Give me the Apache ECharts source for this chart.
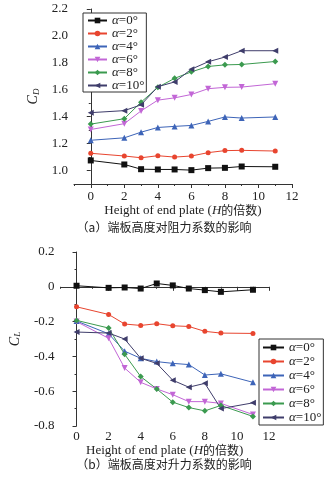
<!DOCTYPE html>
<html><head><meta charset="utf-8">
<script src="https://cdn.jsdelivr.net/npm/echarts@6/dist/echarts.min.js"></script>
<style>html,body{margin:0;padding:0;background:#fff}#c{width:328px;height:477px}</style>
</head><body><div id="c"></div>
<script>
const heights = [0, 2, 3, 4, 5, 6, 7, 8, 9, 11];
const seriesNames = ['α=0°', 'α=2°', 'α=4°', 'α=6°', 'α=8°', 'α=10°'];
const cdA0 = [1.075, 1.045, 1.01, 1.008, 1.008, 1.003, 1.018, 1.02, 1.03, 1.028];
const cdA2 = [1.128, 1.108, 1.095, 1.11, 1.10, 1.108, 1.133, 1.148, 1.15, 1.145];
const cdA4 = [1.225, 1.243, 1.285, 1.32, 1.328, 1.335, 1.365, 1.398, 1.39, 1.398];
const cdA6 = [1.305, 1.348, 1.443, 1.523, 1.54, 1.565, 1.608, 1.618, 1.62, 1.645];
const cdA8 = [1.345, 1.385, 1.508, 1.618, 1.685, 1.733, 1.773, 1.785, 1.788, 1.81];
const cdA10 = [1.43, 1.445, 1.488, 1.623, 1.658, 1.753, 1.808, 1.843, 1.89, 1.89];
const clA0 = [0.006, -0.006, -0.004, -0.01, 0.019, 0.008, -0.01, -0.019, -0.029, -0.017];
const clA2 = [-0.115, -0.159, -0.214, -0.222, -0.212, -0.224, -0.228, -0.256, -0.266, -0.268];
const clA4 = [-0.197, -0.27, -0.37, -0.411, -0.43, -0.44, -0.447, -0.507, -0.5, -0.549];
const clA6 = [-0.2, -0.296, -0.467, -0.549, -0.587, -0.62, -0.66, -0.66, -0.67, -0.734];
const clA8 = [-0.193, -0.237, -0.388, -0.516, -0.587, -0.663, -0.694, -0.713, -0.682, -0.745];
const clA10 = [-0.26, -0.266, -0.30, -0.411, -0.44, -0.537, -0.577, -0.555, -0.70, -0.667];
const xTicks = [0, 2, 4, 6, 8, 10, 12];
const xMinor = [-1, 1, 3, 5, 7, 9, 11];
const cdTicks = [1.0, 1.2, 1.4, 1.6, 1.8, 2.0, 2.2];
const cdMinor = [0.9, 1.1, 1.3, 1.5, 1.7, 1.9, 2.1];
const clTicks = [-0.8, -0.6, -0.4, -0.2, 0, 0.2];
const clMinor = [-0.7, -0.5, -0.3, -0.1, 0.1];

const cdData = [cdA0, cdA2, cdA4, cdA6, cdA8, cdA10];
const clData = [clA0, clA2, clA4, clA6, clA8, clA10];
const colors = ['#111111', '#e8452f', '#3d64b8', '#c266d6', '#3b9a4f', '#3f3d6b'];
const symbols = ['rect', 'circle', 'triangle', 'triangle', 'diamond', 'triangle'];
const rotates = [0, 0, 0, 180, 0, 90];
const sizes = [6, 5, 6, 6, 6, 6];

const FONT = '"Liberation Serif", "Times New Roman", serif';
const labelStyle = {fontFamily: FONT, fontSize: 13, color: '#222'};

function axisCommon(extra) {
  return Object.assign({
    type: 'value',
    axisLine: {show: true, lineStyle: {color: '#333', width: 1}},
    splitLine: {show: false},
  }, extra);
}
function xMain(gi, lm, ng) {
  return axisCommon({
    gridIndex: gi, min: -1, max: 12,
    axisTick: {show: true, length: 4, inside: false, customValues: xTicks, lineStyle: {color: '#333'}},
    axisLabel: Object.assign({customValues: xTicks, margin: lm}, labelStyle),
    name: '{n|Height of end plate (}{i|H}{c|的倍数}{n|)}',
    nameLocation: 'middle', nameGap: ng,
    nameTextStyle: {rich: {
      n: {fontFamily: FONT, fontSize: 13, color: '#222'},
      i: {fontFamily: FONT, fontSize: 13, fontStyle: 'italic', color: '#222'},
      c: {fontFamily: '"Noto Sans CJK SC"', fontSize: 12, color: '#222'}
    }}
  });
}
function xMinorAx(gi) {
  return axisCommon({
    gridIndex: gi, min: -1, max: 12, position: 'bottom',
    axisLine: {show: false},
    axisTick: {show: true, length: 2, customValues: xMinor, lineStyle: {color: '#333'}},
    axisLabel: {show: false, customValues: xMinor}
  });
}
function yMain(gi, min, max, ticks, fmt, sub, gap) {
  return axisCommon({
    gridIndex: gi, min: min, max: max,
    axisTick: {show: true, length: 4, customValues: ticks, lineStyle: {color: '#333'}},
    axisLabel: Object.assign({customValues: ticks, margin: 6, formatter: fmt}, labelStyle),
    name: '{i|C}{s|' + sub + '}',
    nameLocation: 'middle', nameGap: gap, nameRotate: 90,
    nameTextStyle: {rich: {
      i: {fontFamily: FONT, fontSize: 14, fontStyle: 'italic', color: '#222'},
      s: {fontFamily: FONT, fontSize: 9, fontStyle: 'italic', color: '#222', verticalAlign: 'bottom', padding: [6, 0, 0, 0]}
    }}
  });
}
function yMinorAx(gi, min, max, ticks) {
  return axisCommon({
    gridIndex: gi, min: min, max: max, position: 'left',
    axisLine: {show: false},
    axisTick: {show: true, length: 2, customValues: ticks, lineStyle: {color: '#333'}},
    axisLabel: {show: false, customValues: ticks}
  });
}

const series = [];
function addSeries(dataSets, xi, yi) {
  dataSets.forEach((vals, k) => {
    series.push({
      name: seriesNames[k], type: 'line', xAxisIndex: xi, yAxisIndex: yi,
      data: heights.map((h, j) => [h, vals[j]]),
      symbol: symbols[k], symbolRotate: rotates[k], symbolSize: sizes[k],
      showSymbol: true,
      itemStyle: {color: colors[k]},
      lineStyle: {color: colors[k], width: 1},
      emphasis: {disabled: true}, animation: false
    });
  });
}
addSeries(cdData, 0, 0);
addSeries(clData, 2, 2);

const legendRich = {
  a: {fontFamily: FONT, fontSize: 13, fontStyle: 'italic', color: '#222'},
  t: {fontFamily: FONT, fontSize: 13, color: '#222'}
};
function legendFmt(n) { return '{a|α}{t|' + n.slice(1) + '}'; }
const legendText = {fontFamily: FONT, fontSize: 13, color: '#222', rich: legendRich};

const option = {
  animation: false,
  backgroundColor: '#fff',
  grid: [
    {left: 74, top: 9, width: 218, height: 175},
    {left: 53, top: 252, width: 216, height: 174}
  ],
  xAxis: [xMain(0, 6, 19), xMinorAx(0), xMain(1, 4, 16), xMinorAx(1)],
  yAxis: [
    yMain(0, 0.9, 2.2, cdTicks, v => v.toFixed(1), 'D', 30),
    yMinorAx(0, 0.9, 2.2, cdMinor),
    yMain(1, -0.8, 0.2, clTicks, v => (Math.abs(v) < 1e-9 ? '0' : v.toFixed(1)), 'L', 38),
    yMinorAx(1, -0.8, 0.2, clMinor)
  ],
  legend: [
    {left: 83, top: 13, orient: 'vertical', itemWidth: 19, itemHeight: 7, itemGap: 0,
     borderColor: '#333', borderWidth: 1, padding: [1, 2, 0, 4], backgroundColor: '#fff', z: 10,
     data: seriesNames, formatter: legendFmt, textStyle: legendText, selectedMode: false},
    {left: 259, top: 339, orient: 'vertical', itemWidth: 21, itemHeight: 7, itemGap: 1,
     borderColor: '#333', borderWidth: 1, padding: [2, 2, 1, 3], backgroundColor: '#fff', z: 10,
     data: seriesNames, formatter: legendFmt, textStyle: legendText, selectedMode: false}
  ],
  graphic: [
    {type: 'text', left: 'center', top: 221, style: {text: '（a）端板高度对阻力系数的影响', font: '12px "Noto Sans CJK SC"', fill: '#222'}},
    {type: 'text', left: 'center', top: 458, style: {text: '（b）端板高度对升力系数的影响', font: '12px "Noto Sans CJK SC"', fill: '#222'}}
  ],
  series: series
};
const chart = echarts.init(document.getElementById('c'), null, {renderer: 'canvas'});
chart.setOption(option);
</script></body></html>
